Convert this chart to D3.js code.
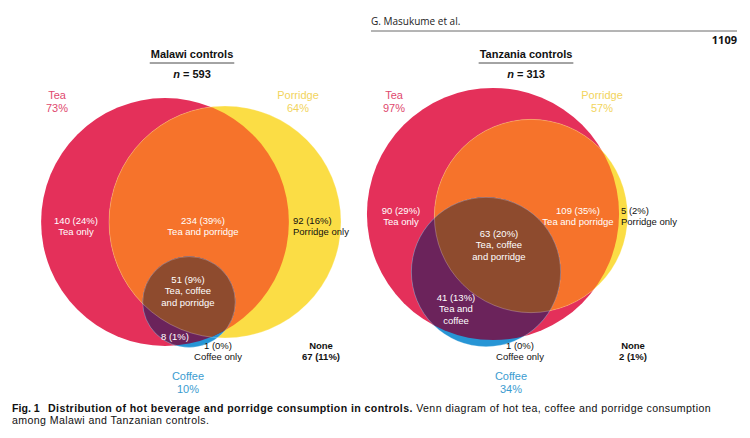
<!DOCTYPE html>
<html>
<head>
<meta charset="utf-8">
<script src="https://cdn.jsdelivr.net/npm/d3@7"></script>
<style>
  body { margin: 0; background: #fff; }
  svg { display: block; }
  .lbl { font-family: "Liberation Sans", Arial, sans-serif; }
  .cap { font-family: "Open Sans", sans-serif; }
</style>
</head>
<body>
<svg id="chart" width="750" height="438"></svg>
<script>
// ---- data ----
const panelTitles = ["Malawi controls", "Tanzania controls"];
const panelN = [593, 313];
const setNames = ["Tea", "Porridge", "Coffee"];
const malawiSetPct = [73, 64, 10];
const tanzaniaSetPct = [97, 57, 34];
const regionNames = ["Tea only", "Tea and porridge", "Porridge only",
  "Tea, coffee and porridge", "Tea and coffee", "Coffee only"];
const malawiCounts = [140, 234, 92, 51, 8, 1];
const malawiPcts = [24, 39, 16, 9, 1, 0];
const tanzaniaCounts = [90, 109, 5, 63, 41, 1];
const tanzaniaPcts = [29, 35, 2, 20, 13, 0];
const noneCounts = [67, 2];
const nonePcts = [11, 1];

// ---- layout (positions / styles only) ----
const setColours = ["#E4305A", "#FBDD45", "#2795D5"];
const labelColours = ["#E0496E", "#F2D45C", "#3B9CD0"];
const teaPorColour = "#F6732B";
const allColour = "#8E4B2E";
const teaCofColour = "#6B235B";

const layouts = [
  { R: 145,
    sets: [ {cx: 165, cy: 222, sx: 1, sy: 1},
            {cx: 225, cy: 222, sx: 1, sy: 1},
            {cx: 189, cy: 302, sx: 1.01, sy: 0.99} ],
    setLabels: [ {x: 57, y: 99}, {x: 298, y: 99}, {x: 188, y: 380} ],
    regions: [
      {x: 76, y: 224, anchor: "middle", fill: "#fff", lines: ["Tea only"]},
      {x: 203, y: 224, anchor: "middle", fill: "#fff", lines: ["Tea and porridge"]},
      {x: 293, y: 224, anchor: "start", fill: "#111", lines: ["Porridge only"]},
      {x: 188, y: 283, anchor: "middle", fill: "#fff", lines: ["Tea, coffee", "and porridge"]},
      {x: 175, y: 340, anchor: "middle", fill: "#fff", lines: []},
      {x: 218, y: 349, anchor: "middle", fill: "#111", lines: ["Coffee only"]} ],
    none: {x: 321, y: 349},
    title: {x: 192, y: 58} },
  { R: 128,
    sets: [ {cx: 493, cy: 214, sx: 1, sy: 1},
            {cx: 531, cy: 216, sx: 1, sy: 1},
            {cx: 486, cy: 272, sx: 1, sy: 1} ],
    setLabels: [ {x: 394, y: 99}, {x: 602, y: 99}, {x: 511, y: 380} ],
    regions: [
      {x: 401, y: 214, anchor: "middle", fill: "#fff", lines: ["Tea only"]},
      {x: 578, y: 214, anchor: "middle", fill: "#fff", lines: ["Tea and porridge"]},
      {x: 621, y: 214, anchor: "start", fill: "#111", lines: ["Porridge only"]},
      {x: 499, y: 237, anchor: "middle", fill: "#fff", lines: ["Tea, coffee", "and porridge"]},
      {x: 456, y: 301, anchor: "middle", fill: "#fff", lines: ["Tea and", "coffee"]},
      {x: 520, y: 349, anchor: "middle", fill: "#111", lines: ["Coffee only"]} ],
    none: {x: 633, y: 349},
    title: {x: 526, y: 58} }
];

const svg = d3.select("#chart");
const defs = svg.append("defs");

// running header
svg.append("text").attr("class", "cap")
  .attr("x", 371).attr("y", 25).attr("font-size", 10).attr("fill", "#222")
  .text("G. Masukume et al.");
svg.append("line").attr("x1", 371).attr("x2", 737).attr("y1", 31).attr("y2", 31)
  .attr("stroke", "#444").attr("stroke-width", 0.8);
svg.append("text").attr("class", "cap")
  .attr("x", 737).attr("y", 44).attr("text-anchor", "end")
  .attr("font-size", 11).attr("font-weight", "bold").attr("fill", "#111")
  .text("1109");

const panelSetPct = [malawiSetPct, tanzaniaSetPct];
const panelCounts = [malawiCounts, tanzaniaCounts];
const panelPcts = [malawiPcts, tanzaniaPcts];

panelTitles.forEach((title, p) => {
  const lay = layouts[p];
  // radius of an equal-area circle for each set
  const rScale = d3.scaleSqrt().domain([0, 100]).range([0, lay.R]);
  const shapes = panelSetPct[p].map((v, i) => {
    const s = lay.sets[i];
    return { cx: s.cx, cy: s.cy, rx: rScale(v) * s.sx, ry: rScale(v) * s.sy };
  });

  const ids = ["tea", "por", "cof"].map(k => `${k}-${p}`);
  shapes.forEach((s, i) => {
    defs.append("clipPath").attr("id", ids[i])
      .append("ellipse")
        .attr("cx", s.cx).attr("cy", s.cy).attr("rx", s.rx).attr("ry", s.ry);
  });

  const g = svg.append("g");
  const ell = (parent, s, fill) => parent.append("ellipse")
    .attr("cx", s.cx).attr("cy", s.cy).attr("rx", s.rx).attr("ry", s.ry)
    .attr("fill", fill);

  // tea, porridge, then their overlap
  ell(g, shapes[0], setColours[0]);
  ell(g, shapes[1], setColours[1]);
  ell(g.append("g").attr("clip-path", `url(#${ids[0]})`), shapes[1], teaPorColour);
  // coffee and its overlaps
  ell(g, shapes[2], setColours[2]);
  const inTea = g.append("g").attr("clip-path", `url(#${ids[0]})`);
  ell(inTea, shapes[2], teaCofColour);
  ell(inTea.append("g").attr("clip-path", `url(#${ids[1]})`), shapes[2], allColour);

  // faint outlines
  g.selectAll("ellipse.edge").data(shapes.slice(1)).enter().append("ellipse")
    .attr("class", "edge")
    .attr("cx", d => d.cx).attr("cy", d => d.cy).attr("rx", d => d.rx).attr("ry", d => d.ry)
    .attr("fill", "none").attr("stroke", "#fff").attr("stroke-opacity", 0.35)
    .attr("stroke-width", 0.7);

  // title + n
  const t = svg.append("text").attr("class", "lbl")
    .attr("x", lay.title.x).attr("y", lay.title.y).attr("text-anchor", "middle")
    .attr("font-size", 11).attr("font-weight", "bold").attr("fill", "#111")
    .text(title);
  const tw = t.node().getComputedTextLength();
  svg.append("line")
    .attr("x1", lay.title.x - tw / 2 - 1).attr("x2", lay.title.x + tw / 2 + 1)
    .attr("y1", lay.title.y + 5).attr("y2", lay.title.y + 5)
    .attr("stroke", "#333").attr("stroke-width", 0.9);
  const nt = svg.append("text").attr("class", "lbl")
    .attr("x", lay.title.x).attr("y", lay.title.y + 20).attr("text-anchor", "middle")
    .attr("font-size", 11).attr("font-weight", "bold").attr("fill", "#111");
  nt.append("tspan").attr("font-style", "italic").text("n");
  nt.append("tspan").text(` = ${panelN[p]}`);

  // set labels
  setNames.forEach((name, i) => {
    const pos = lay.setLabels[i];
    const txt = svg.append("text").attr("class", "lbl")
      .attr("x", pos.x).attr("y", pos.y).attr("text-anchor", "middle")
      .attr("font-size", 11).attr("fill", labelColours[i]);
    txt.append("tspan").attr("x", pos.x).text(name);
    txt.append("tspan").attr("x", pos.x).attr("dy", 13).text(`${panelSetPct[p][i]}%`);
  });

  // region labels
  regionNames.forEach((name, i) => {
    const r = lay.regions[i];
    const txt = svg.append("text").attr("class", "lbl")
      .attr("x", r.x).attr("y", r.y).attr("text-anchor", r.anchor)
      .attr("font-size", 9.5).attr("fill", r.fill);
    txt.append("tspan").attr("x", r.x)
      .text(`${panelCounts[p][i]} (${panelPcts[p][i]}%)`);
    r.lines.forEach(line => {
      txt.append("tspan").attr("x", r.x).attr("dy", 11.3).text(line);
    });
  });

  // none
  const nn = svg.append("text").attr("class", "lbl")
    .attr("x", lay.none.x).attr("y", lay.none.y).attr("text-anchor", "middle")
    .attr("font-size", 9.5).attr("font-weight", "bold").attr("fill", "#111");
  nn.append("tspan").attr("x", lay.none.x).text("None");
  nn.append("tspan").attr("x", lay.none.x).attr("dy", 11.3)
    .text(`${noneCounts[p]} (${nonePcts[p]}%)`);
});

// caption (one text block, two lines)
const cap = svg.append("text").attr("class", "lbl")
  .attr("x", 12).attr("y", 412).attr("font-size", 10.6)
  .attr("letter-spacing", 0.4).attr("fill", "#111");
cap.append("tspan").attr("font-weight", "bold").attr("letter-spacing", 0).text("Fig. 1");
cap.append("tspan").attr("x", 48).attr("font-weight", "bold")
  .text("Distribution of hot beverage and porridge consumption in controls.");
cap.append("tspan").text(" Venn diagram of hot tea, coffee and porridge consumption");
cap.append("tspan").attr("x", 12).attr("dy", 12.3)
  .text("among Malawi and Tanzanian controls.");
</script>
</body>
</html>
